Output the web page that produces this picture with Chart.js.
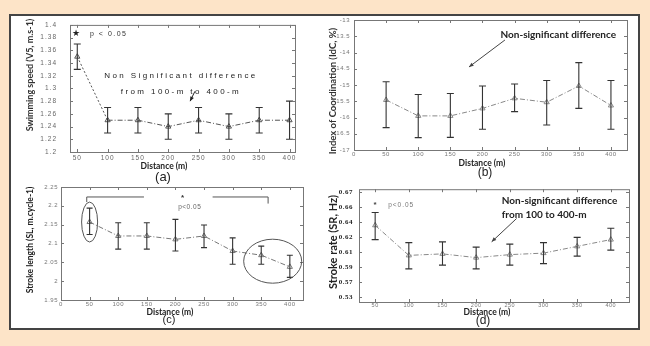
<!DOCTYPE html>
<html>
<head>
<meta charset="utf-8">
<script src="https://cdn.jsdelivr.net/npm/chart.js@4.4.0/dist/chart.umd.min.js"></script>
<style>
  html, body { margin: 0; padding: 0; }
  body { width: 650px; height: 346px; background: #fde4c8; position: relative; overflow: hidden; }
  #frame { position: absolute; left: 9px; top: 14px; width: 627px; height: 312px; background: #fff; border: 2px solid #444; }
  canvas { position: absolute; }
</style>
</head>
<body>
<div id="frame"></div>
<canvas id="chartA"></canvas>
<canvas id="chartB"></canvas>
<canvas id="chartC"></canvas>
<canvas id="chartD"></canvas>
<script>
// distances (m) shared by all four panels
const distances = [50, 100, 150, 200, 250, 300, 350, 400];

// (a) swimming speed
const speedMean = [1.35, 1.25, 1.25, 1.24, 1.25, 1.24, 1.25, 1.25];
const speedLow  = [1.33, 1.23, 1.23, 1.22, 1.23, 1.22, 1.23, 1.22];
const speedHigh = [1.37, 1.27, 1.27, 1.26, 1.27, 1.26, 1.27, 1.28];
const speedTicks = [1.2, 1.22, 1.24, 1.26, 1.28, 1.3, 1.32, 1.34, 1.36, 1.38, 1.4];
const distTicksA = [50, 100, 150, 200, 250, 300, 350, 400];

// (b) index of coordination
const idcMean = [-15.46, -15.95, -15.95, -15.72, -15.41, -15.53, -15.03, -15.63];
const idcLow  = [-16.31, -16.62, -16.61, -16.36, -15.82, -16.23, -15.72, -16.36];
const idcHigh = [-14.90, -15.29, -15.26, -15.03, -14.97, -14.86, -14.31, -14.86];
const idcTicks = [-17, -16.5, -16, -15.5, -15, -14.5, -14, -13.5, -13];
const distTicksB = [0, 50, 100, 150, 200, 250, 300, 350, 400];

// (c) stroke length
const slMean = [2.157, 2.12, 2.12, 2.111, 2.12, 2.08, 2.069, 2.038];
const slLow  = [2.124, 2.085, 2.085, 2.08, 2.089, 2.045, 2.045, 2.01];
const slHigh = [2.194, 2.155, 2.155, 2.164, 2.149, 2.115, 2.093, 2.069];
const slTicks = [1.95, 2, 2.05, 2.1, 2.15, 2.2, 2.25];

// (d) stroke rate
const srMean = [0.626, 0.586, 0.588, 0.583, 0.587, 0.589, 0.598, 0.607];
const srLow  = [0.607, 0.568, 0.573, 0.568, 0.573, 0.575, 0.585, 0.593];
const srHigh = [0.643, 0.603, 0.604, 0.597, 0.601, 0.603, 0.610, 0.622];
const srTicks = [0.53, 0.55, 0.57, 0.59, 0.61, 0.63, 0.65, 0.67];
const srTickLabels = ['0.53', '0.57', '0.59', '0.61', '0.62', '0.64', '0.66', '0.67'];

const fmt = v => String(parseFloat(v.toFixed(3)));

function drawText(ctx, t, x, y) {
  ctx.save();
  ctx.font = t.font;
  ctx.fillStyle = t.color || '#222';
  ctx.letterSpacing = t.spacing || '0px';
  ctx.textAlign = t.align || 'center';
  ctx.textBaseline = 'middle';
  ctx.translate(x, y);
  if (t.rotate) ctx.rotate(t.rotate);
  ctx.fillText(t.text, 0, 0);
  ctx.restore();
}

function makePanel(id, p) {
  const cv = document.getElementById(id);
  const left = p.plot[0] - p.padL, top = p.plot[1] - p.padT;
  const w = p.plot[2] - p.plot[0] + p.padL + p.padR;
  const h = p.plot[3] - p.plot[1] + p.padT + p.padB;
  cv.width = w; cv.height = h;
  cv.style.left = left + 'px'; cv.style.top = top + 'px';
  cv.style.width = w + 'px'; cv.style.height = h + 'px';

  const extras = {
    id: 'extras',
    beforeDraw(chart) {
      chart.ctx.letterSpacing = p.tickSpacing;
    },
    afterDatasetsDraw(chart) {
      const ctx = chart.ctx, a = chart.chartArea, xs = chart.scales.x, ys = chart.scales.y;
      ctx.save();
      // error bars
      ctx.strokeStyle = p.barColor;
      ctx.lineWidth = 1.1;
      distances.forEach((d, i) => {
        const px = xs.getPixelForValue(d);
        const y1 = ys.getPixelForValue(p.lo[i]), y2 = ys.getPixelForValue(p.hi[i]);
        ctx.beginPath();
        ctx.moveTo(px, y1); ctx.lineTo(px, y2);
        ctx.moveTo(px - p.cap, y1); ctx.lineTo(px + p.cap, y1);
        ctx.moveTo(px - p.cap, y2); ctx.lineTo(px + p.cap, y2);
        ctx.stroke();
      });
      // box and inward ticks
      ctx.strokeStyle = p.frameColor;
      ctx.lineWidth = 1;
      ctx.strokeRect(a.left + 0.5, a.top + 0.5, a.right - a.left, a.bottom - a.top);
      ctx.beginPath();
      xs.ticks.forEach(t => {
        const px = Math.round(xs.getPixelForValue(t.value)) + 0.5;
        ctx.moveTo(px, a.bottom); ctx.lineTo(px, a.bottom - 3);
        ctx.moveTo(px, a.top); ctx.lineTo(px, a.top + 3);
      });
      ys.ticks.forEach(t => {
        const py = Math.round(ys.getPixelForValue(t.value)) + 0.5;
        ctx.moveTo(a.left, py); ctx.lineTo(a.left + 3, py);
        ctx.moveTo(a.right, py); ctx.lineTo(a.right - 3, py);
      });
      ctx.stroke();
      ctx.restore();
    },
    afterDraw(chart) {
      const ctx = chart.ctx, xs = chart.scales.x, ys = chart.scales.y;
      ctx.letterSpacing = '0px';
      p.titles.forEach(t => drawText(ctx, t, t.x - left, t.y - top));
      p.notes.forEach(n => {
        ctx.save();
        ctx.strokeStyle = n.color || '#444';
        ctx.fillStyle = n.color || '#444';
        ctx.lineWidth = n.width || 1;
        if (n.type === 'text') {
          drawText(ctx, n, xs.getPixelForValue(n.x), ys.getPixelForValue(n.y));
        } else if (n.type === 'line') {
          ctx.beginPath();
          n.pts.forEach(([x, y], k) => {
            const px = xs.getPixelForValue(x), py = ys.getPixelForValue(y);
            k ? ctx.lineTo(px, py) : ctx.moveTo(px, py);
          });
          ctx.stroke();
        } else if (n.type === 'arrow') {
          const x1 = xs.getPixelForValue(n.x1), y1 = ys.getPixelForValue(n.y1);
          const x2 = xs.getPixelForValue(n.x2), y2 = ys.getPixelForValue(n.y2);
          const ang = Math.atan2(y2 - y1, x2 - x1), hl = n.head || 5;
          ctx.beginPath(); ctx.moveTo(x1, y1); ctx.lineTo(x2, y2); ctx.stroke();
          ctx.beginPath();
          ctx.moveTo(x2, y2);
          ctx.lineTo(x2 - hl * Math.cos(ang - 0.4), y2 - hl * Math.sin(ang - 0.4));
          ctx.lineTo(x2 - hl * Math.cos(ang + 0.4), y2 - hl * Math.sin(ang + 0.4));
          ctx.closePath(); ctx.fill();
        } else if (n.type === 'ellipse') {
          const cx = xs.getPixelForValue(n.cx), cy = ys.getPixelForValue(n.cy);
          const rx = Math.abs(xs.getPixelForValue(n.cx + n.rx) - cx);
          const ry = Math.abs(ys.getPixelForValue(n.cy + n.ry) - cy);
          ctx.beginPath(); ctx.ellipse(cx, cy, rx, ry, 0, 0, Math.PI * 2); ctx.stroke();
        }
        ctx.restore();
      });
    }
  };

  return new Chart(cv, {
    type: 'line',
    data: {
      datasets: [{
        data: distances.map((d, i) => ({ x: d, y: p.mean[i] })),
        borderColor: p.lineColor,
        borderWidth: 1,
        borderDash: [5, 2, 1, 2],
        segment: { borderDash: c => (p.firstDotted && c.p0DataIndex === 0) ? [2, 2] : [5, 2, 1, 2] },
        tension: 0,
        fill: false,
        pointStyle: 'triangle',
        pointRadius: 3,
        pointBorderWidth: 1,
        pointBorderColor: p.lineColor,
        pointBackgroundColor: 'rgba(0,0,0,0)'
      }]
    },
    options: {
      responsive: false,
      animation: false,
      devicePixelRatio: 1,
      layout: { padding: { left: 0, top: p.padT, right: p.padR, bottom: 0 } },
      plugins: { legend: { display: false }, tooltip: { enabled: false } },
      scales: {
        x: {
          type: 'linear', min: p.xMin, max: p.xMax,
          afterBuildTicks: ax => { ax.ticks = p.xTicks.map(v => ({ value: v })); },
          afterFit: ax => { ax.height = p.padB; },
          grid: { display: false, drawTicks: false },
          border: { display: false },
          ticks: { autoSkip: false, maxRotation: 0, padding: p.xTickPad, color: p.tickColor,
                   font: p.xTickFont, callback: v => fmt(v) }
        },
        y: {
          type: 'linear', min: p.yMin, max: p.yMax,
          afterBuildTicks: ax => { ax.ticks = p.yTicks.map(v => ({ value: v })); },
          afterFit: ax => { ax.width = p.padL; },
          grid: { display: false, drawTicks: false },
          border: { display: false },
          ticks: { autoSkip: false, padding: p.yTickPad, color: p.yTickColor || p.tickColor,
                   font: p.yTickFont, callback: (v, i) => p.yLabels ? p.yLabels[i] : fmt(v) }
        }
      }
    },
    plugins: [extras]
  });
}

const sans = 'Liberation Sans';

makePanel('chartA', {
  plot: [70, 20, 295, 152], padL: 62, padT: 12, padR: 8, padB: 34,
  xMin: 38, xMax: 409, yMin: 1.2, yMax: 1.4,
  xTicks: distTicksA, yTicks: speedTicks,
  mean: speedMean, lo: speedLow, hi: speedHigh,
  firstDotted: true, lineColor: '#555', barColor: '#333', frameColor: '#777', cap: 3.5,
  tickColor: '#666', tickSpacing: '1px', xTickPad: 2, yTickPad: 13,
  xTickFont: { family: sans, size: 6.5 }, yTickFont: { family: sans, size: 6.5 },
  titles: [
    { text: 'Swimming speed (V5, m.s-1)', x: 30, y: 75, rotate: -Math.PI / 2, font: 'bold 9px Lato', color: '#333' },
    { text: 'Distance (m)', x: 164, y: 166, font: 'bold 8.5px Lato', color: '#222' },
    { text: '(a)', x: 163, y: 177, font: '13px Liberation Sans', color: '#222' }
  ],
  notes: [
    { type: 'text', x: 48, y: 1.386, text: '★', font: '9px DejaVu Sans', color: '#222' },
    { type: 'text', x: 71, y: 1.386, text: 'p < 0.05', align: 'left', font: '7px Liberation Sans', spacing: '1.5px', color: '#333' },
    { type: 'text', x: 221, y: 1.32, text: 'Non Significant difference', font: '8px Liberation Sans', spacing: '2.4px', color: '#222' },
    { type: 'text', x: 221, y: 1.294, text: 'from 100-m to 400-m', font: '8px Liberation Sans', spacing: '2.4px', color: '#222' },
    { type: 'arrow', x1: 244, y1: 1.2955, x2: 236, y2: 1.28, head: 5, color: '#222' }
  ]
});

makePanel('chartB', {
  plot: [354, 20, 627, 150], padL: 32, padT: 8, padR: 8, padB: 30,
  xMin: 0, xMax: 425, yMin: -17, yMax: -13,
  xTicks: distTicksB, yTicks: idcTicks,
  mean: idcMean, lo: idcLow, hi: idcHigh,
  firstDotted: false, lineColor: '#888', barColor: '#333', frameColor: '#777', cap: 3.5,
  tickColor: '#777', tickSpacing: '0.5px', xTickPad: 1, yTickPad: 4,
  xTickFont: { family: sans, size: 6 }, yTickFont: { family: sans, size: 6 },
  titles: [
    { text: 'Index of Coordination (IdC, %)', x: 333, y: 91, rotate: -Math.PI / 2, font: 'bold 9.5px Lato', color: '#333' },
    { text: 'Distance (m)', x: 482, y: 163, font: 'bold 8.5px Lato', color: '#222' },
    { text: '(b)', x: 485, y: 173, font: '12px Liberation Sans', color: '#222' }
  ],
  notes: [
    { type: 'text', x: 318, y: -13.46, text: 'Non-significant difference', font: 'bold 10px Lato', color: '#222' },
    { type: 'arrow', x1: 235, y1: -13.615, x2: 179, y2: -14.446, head: 5, color: '#444' }
  ]
});

makePanel('chartC', {
  plot: [61, 187, 303, 300], padL: 40, padT: 8, padR: 8, padB: 30,
  xMin: 0, xMax: 423, yMin: 1.95, yMax: 2.25,
  xTicks: distTicksB, yTicks: slTicks,
  mean: slMean, lo: slLow, hi: slHigh,
  firstDotted: false, lineColor: '#777', barColor: '#333', frameColor: '#777', cap: 3,
  tickColor: '#777', tickSpacing: '0.5px', xTickPad: 1, yTickPad: 3,
  xTickFont: { family: sans, size: 6 }, yTickFont: { family: sans, size: 6 },
  titles: [
    { text: 'Stroke length (SL, m.cycle-1)', x: 30, y: 240, rotate: -Math.PI / 2, font: 'bold 8.5px Lato', color: '#222' },
    { text: 'Distance (m)', x: 170, y: 312, font: 'bold 8.5px Lato', color: '#222' },
    { text: '(c)', x: 169, y: 320, font: '11px Liberation Sans', color: '#222' }
  ],
  notes: [
    { type: 'line', pts: [[45, 2.21], [45, 2.2235], [145, 2.2235]], color: '#555' },
    { type: 'line', pts: [[265, 2.2235], [362, 2.2235], [362, 2.206]], color: '#555' },
    { type: 'text', x: 212.5, y: 2.221, text: '*', font: 'bold 8px Liberation Sans', color: '#333' },
    { type: 'text', x: 225, y: 2.197, text: 'p<0.05', font: '6.5px Liberation Sans', spacing: '0.5px', color: '#666' },
    { type: 'ellipse', cx: 50, cy: 2.157, rx: 14, ry: 0.053, color: '#555' },
    { type: 'ellipse', cx: 370, cy: 2.053, rx: 50.7, ry: 0.0584, color: '#555' }
  ]
});

makePanel('chartD', {
  plot: [359, 187, 629, 302], padL: 36, padT: 8, padR: 8, padB: 28,
  xMin: 26, xMax: 427, yMin: 0.524, yMax: 0.674,
  xTicks: distTicksA, yTicks: srTicks, yLabels: srTickLabels,
  mean: srMean, lo: srLow, hi: srHigh,
  firstDotted: false, lineColor: '#888', barColor: '#333', frameColor: '#777', cap: 3.5,
  tickColor: '#777', yTickColor: '#222', tickSpacing: '0.5px', xTickPad: 0, yTickPad: 6,
  xTickFont: { family: sans, size: 5.5 }, yTickFont: { family: 'Liberation Serif', size: 7, weight: 'bold' },
  titles: [
    { text: 'Stroke rate (SR, Hz)', x: 333, y: 242, rotate: -Math.PI / 2, font: 'bold 11px Lato', color: '#222' },
    { text: 'Distance (m)', x: 487, y: 312, font: 'bold 8.5px Lato', color: '#222' },
    { text: '(d)', x: 483, y: 321, font: '12px Liberation Sans', color: '#222' }
  ],
  notes: [
    { type: 'text', x: 50, y: 0.653, text: '*', font: 'bold 8px Liberation Sans', color: '#444' },
    { type: 'text', x: 69.3, y: 0.653, text: 'p<0.05', align: 'left', font: '6.5px Liberation Sans', spacing: '1px', color: '#777' },
    { type: 'text', x: 238, y: 0.659, text: 'Non-significant difference', align: 'left', font: 'bold 10px Lato', color: '#222' },
    { type: 'text', x: 238, y: 0.640, text: 'from 100 to 400-m', align: 'left', font: 'bold 10px Lato', color: '#222' },
    { type: 'arrow', x1: 260, y1: 0.635, x2: 223, y2: 0.604, head: 5, color: '#444' }
  ]
});
</script>
</body>
</html>
